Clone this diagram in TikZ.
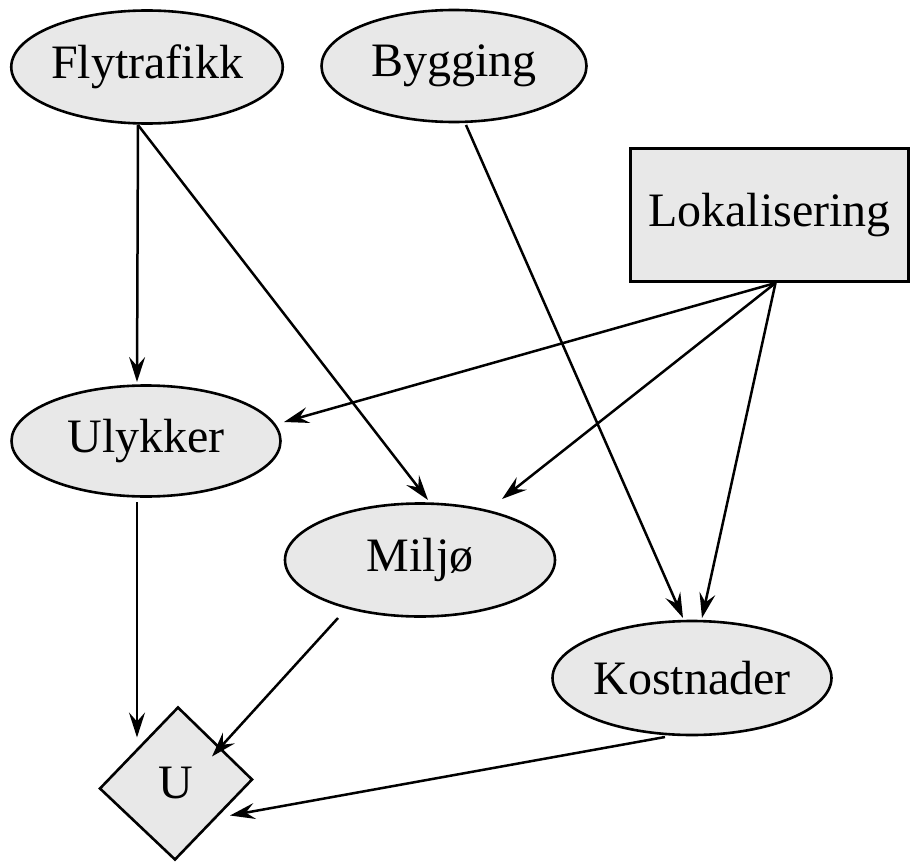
\documentclass[tikz,border=0pt]{standalone}
\usepackage{fontspec}
\setmainfont{Liberation Serif}
\usetikzlibrary{shapes.geometric,arrows.meta,calc}
\definecolor{nodefill}{HTML}{E8E8E8}
\begin{document}
\begin{tikzpicture}[x=1pt,y=-1pt,
  box/.style={font=\fontsize{48}{50}\selectfont, fill=nodefill, draw=black, line width=2.6pt, inner sep=0pt},
  chance/.style={box, ellipse},
  decision/.style={box, rectangle, minimum width=278pt, minimum height=133pt},
  utilitytext/.style={font=\fontsize{48}{50}\selectfont, inner sep=0pt},
  link/.style={line width=2.5pt, -{Stealth[length=25pt,width=16pt,inset=9pt]}}]
\useasboundingbox (0,0) rectangle (911,862);

% chance and decision nodes
\node[chance, minimum width=268pt, minimum height=113pt] (fly) at (147,67) {Flytrafikk};
\node[chance, minimum width=265pt, minimum height=112pt] (byg) at (454,66) {Bygging};
\node[decision] (lok) at (769.5,215) {Lokalisering};
\node[chance, minimum width=269pt, minimum height=111pt] (uly) at (146,441) {Ulykker};
\node[chance, minimum width=270pt, minimum height=113pt] (mil) at (420,560) {Miljø};
\node[chance, minimum width=268pt, minimum height=114pt] (kos) at (692,678) {Kostnader};

% utility node: a slightly skewed diamond
\coordinate (uc) at (176,783.5);
\filldraw[fill=nodefill, draw=black, line width=2.6pt, line join=miter]
  ($(uc)+(2,-76)$) -- ($(uc)+(76,-4)$) -- ($(uc)+(-1,76)$) -- ($(uc)+(-76,5)$) -- cycle;
\node[utilitytext] (u) at (uc) {U};

% influences
\draw[link] ($(fly)+(-9,58)$) -- ($(uly)+(-9,-59)$);
\draw[link] ($(fly)+(-9,58)$) -- ($(mil)+(8,-60)$);
\draw[link] ($(byg)+(12,59)$) -- ($(kos)+(-9,-60)$);
\draw[link] ($(lok)+(6,68)$) -- ($(uly)+(138,-19)$);
\draw[link] ($(lok)+(6,68)$) -- ($(mil)+(82,-61)$);
\draw[link] ($(lok)+(6,68)$) -- ($(kos)+(10,-60)$);
\draw[link] ($(uly)+(-9,61)$) -- ($(u)+(-39,-46)$);
\draw[link] ($(mil)+(-82,58)$) -- ($(u)+(36,-27)$);
\draw[link] ($(kos)+(-27,59)$) -- ($(u)+(54,32)$);
\end{tikzpicture}
\end{document}
